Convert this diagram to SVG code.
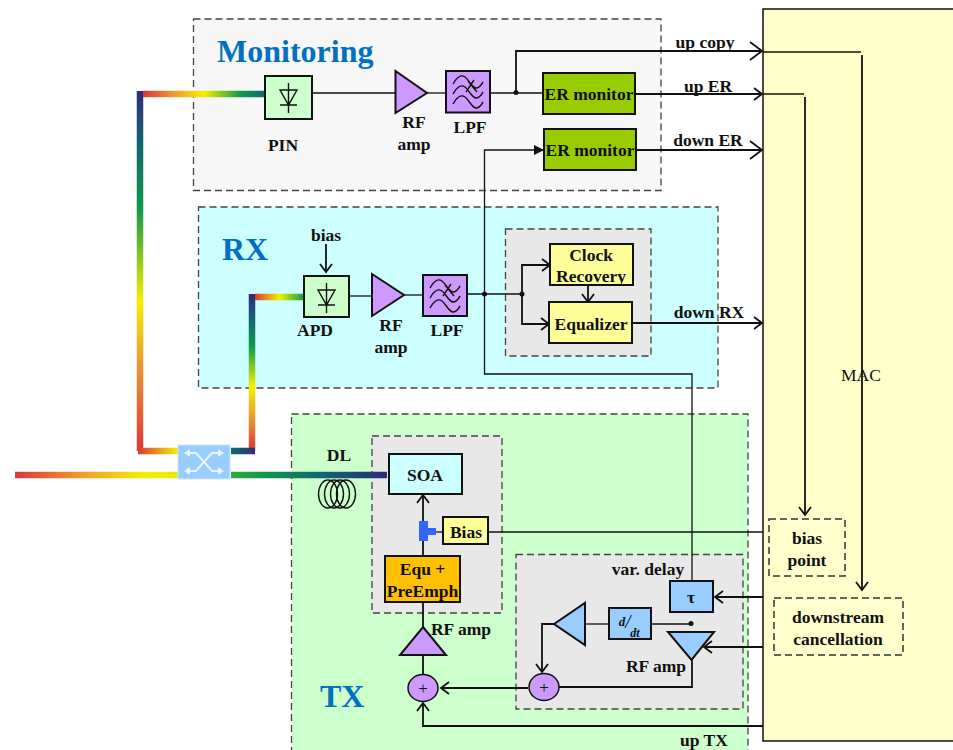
<svg xmlns="http://www.w3.org/2000/svg" width="953" height="750" viewBox="0 0 953 750">
<style>
text{font-family:"Liberation Serif","Times New Roman",serif;font-weight:bold;font-size:17.5px;fill:#111;text-anchor:middle}
text.title{font-size:32px;fill:#0070c0;text-anchor:start}
.reg{font-weight:normal}
.dash{stroke:#444;stroke-width:1.3;stroke-dasharray:7 4}
.box{stroke:#111;stroke-width:2}
.w{fill:none;stroke:#111;stroke-width:1.3}
.a{fill:none;stroke:#111;stroke-width:1.8}
.glyph{fill:none;stroke:#111;stroke-width:1.4}
.fib{fill:none;stroke-width:6.5}
.dot{fill:#111}
.purple{fill:#cc99ff}
.lblue{fill:#99ccff}
.yellow{fill:#ffff99}
.green{fill:#ccffcc}
.er{fill:#99cc00}
</style>
<defs>
<marker id="arr" markerUnits="userSpaceOnUse" markerWidth="20" markerHeight="20" refX="10" refY="10" orient="auto" overflow="visible"><path d="M2,4 L10,10 L2,16" fill="none" stroke="#111" stroke-width="1.800"/></marker>
<marker id="arrB" markerUnits="userSpaceOnUse" markerWidth="30" markerHeight="30" refX="15" refY="15" orient="auto" overflow="visible"><path d="M3,6 L15,15 L3,24" fill="none" stroke="#111" stroke-width="1.800"/></marker>
<marker id="arrF" markerUnits="userSpaceOnUse" markerWidth="20" markerHeight="20" refX="10" refY="10" orient="auto" overflow="visible"><path d="M0,5 L10,10 L0,15 Z" fill="#111"/></marker>
<linearGradient id="gMain" gradientUnits="userSpaceOnUse" x1="15" y1="0" x2="178" y2="0"><stop offset="0" stop-color="#d8383a"/><stop offset=".4" stop-color="#ee9a30"/><stop offset=".8" stop-color="#f5f000"/><stop offset="1" stop-color="#e4e810"/></linearGradient>
<linearGradient id="gMainR" gradientUnits="userSpaceOnUse" x1="231" y1="0" x2="387" y2="0"><stop offset="0" stop-color="#3aa83a"/><stop offset=".2" stop-color="#0f9a4a"/><stop offset=".55" stop-color="#0f6a70"/><stop offset="1" stop-color="#2a2a78"/></linearGradient>
<linearGradient id="gH1" gradientUnits="userSpaceOnUse" x1="143" y1="0" x2="265" y2="0"><stop offset="0" stop-color="#d8383a"/><stop offset=".25" stop-color="#ee9a30"/><stop offset=".5" stop-color="#f5f000"/><stop offset=".8" stop-color="#0f9a4a"/><stop offset="1" stop-color="#0f6a70"/></linearGradient>
<linearGradient id="gV1" gradientUnits="userSpaceOnUse" x1="0" y1="451" x2="0" y2="94"><stop offset="0" stop-color="#d8383a"/><stop offset=".25" stop-color="#ee9a30"/><stop offset=".42" stop-color="#f5f000"/><stop offset=".68" stop-color="#0f9a4a"/><stop offset=".85" stop-color="#0f6a70"/><stop offset="1" stop-color="#2f2f78"/></linearGradient>
<linearGradient id="gV2" gradientUnits="userSpaceOnUse" x1="0" y1="451" x2="0" y2="297"><stop offset="0" stop-color="#d8383a"/><stop offset=".22" stop-color="#ee9a30"/><stop offset=".42" stop-color="#f5f000"/><stop offset=".68" stop-color="#0f9a4a"/><stop offset=".85" stop-color="#0f6a70"/><stop offset="1" stop-color="#2f2f78"/></linearGradient>
<linearGradient id="gH2" gradientUnits="userSpaceOnUse" x1="255" y1="0" x2="304" y2="0"><stop offset="0" stop-color="#d8383a"/><stop offset=".5" stop-color="#f5f000"/><stop offset="1" stop-color="#0f9a4a"/></linearGradient>
<linearGradient id="gS1" gradientUnits="userSpaceOnUse" x1="138" y1="0" x2="178" y2="0"><stop offset="0" stop-color="#d8383a"/><stop offset="1" stop-color="#f5f000"/></linearGradient>
<linearGradient id="gS2" gradientUnits="userSpaceOnUse" x1="231" y1="0" x2="255" y2="0"><stop offset="0" stop-color="#0f6a70"/><stop offset="1" stop-color="#2f2f78"/></linearGradient>
<g id="diode"><path class="glyph" d="M0,-10 V20 M-8.500,-3 H8.500 L0,12 Z M-8.500,12 H8.500"/></g>
<g id="lpf"><path class="glyph" d="M7,13 C11,6 15,3 19,6 S26,17 30,17 S35,14 37,11 M7,23 C11,16 15,13 19,16 S26,27 30,27 S35,24 37,21 M7,33 C11,26 15,23 19,26 S26,37 30,37 S35,34 37,31 M20,21 L28,9 M22,10 L31,21"/></g>
</defs>

<rect id="mac-bg" x="763" y="9" width="200" height="732" fill="#ffffcc" stroke="#111" stroke-width="1.500"/>

<g id="monitoring">
<rect x="193.500" y="19" width="467.500" height="171.500" fill="#f7f7f7" class="dash"/>
<text class="title" x="217" y="62">Monitoring</text>
</g>
<g id="rx">
<rect x="198.500" y="207" width="519.500" height="181" fill="#ccffff" class="dash"/>
<text class="title" x="222" y="260">RX</text>
<rect x="505.500" y="229" width="145.500" height="127" fill="#e8e8e8" class="dash"/>
</g>
<g id="tx">
<rect x="291.500" y="414" width="456.500" height="346" fill="#ccffcc" class="dash"/>
<text class="title" x="320" y="707">TX</text>
<rect x="372" y="436" width="130" height="177" fill="#e8e8e8" class="dash"/>
<rect x="516" y="554.500" width="227" height="154.500" fill="#e8e8e8" class="dash"/>
</g>

<g id="fibers">
<path class="fib" stroke="url(#gV1)" d="M140,451 V91"/>
<path class="fib" stroke="url(#gH1)" d="M143,94 H265"/>
<path class="fib" stroke="url(#gV2)" d="M252,451 V294"/>
<path class="fib" stroke="url(#gH2)" d="M255,297 H304"/>
<path class="fib" stroke="url(#gS1)" d="M138,451 H178"/>
<path class="fib" stroke="url(#gS2)" d="M231,451 H255"/>
<path class="fib" stroke="url(#gMain)" d="M15,475 H178"/>
<path class="fib" stroke="url(#gMainR)" d="M231,475 H387"/>
</g>

<g id="connectors">
<path class="w" d="M312,93 H395"/>
<path class="w" d="M427,93 H446"/>
<path class="w" d="M490,93 H544"/>
<path class="a" marker-end="url(#arrB)" d="M516,93 V51 H762"/>
<path class="a" marker-end="url(#arr)" d="M635,94 H762"/>
<path class="a" marker-end="url(#arrB)" d="M636,150 H762"/>
<path class="w" marker-end="url(#arrF)" d="M692,581 V374 H484.500 V150 H544"/>
<path class="w" d="M763,52 H861"/>
<path class="a" marker-end="url(#arr)" d="M862,55 V590"/>
<path class="w" d="M763,94 H804"/>
<path class="a" marker-end="url(#arr)" d="M805,97 V515"/>
<path class="a" marker-end="url(#arr)" d="M326,244 V272"/>
<path class="w" d="M349,296 H372"/>
<path class="w" d="M404,295 H423"/>
<path class="w" d="M467,294 H522"/>
<path class="a" marker-end="url(#arr)" d="M522,294 V265 H550"/>
<path class="a" marker-end="url(#arr)" d="M522,294 V324 H549"/>
<path class="a" marker-end="url(#arr)" d="M588,285 V302"/>
<path class="a" marker-end="url(#arr)" d="M632,323 H762"/>
<path class="w" d="M488,532 H763"/>
<path class="w" d="M436,532 H443"/>
<path class="a" marker-end="url(#arr)" d="M423,556 V495"/>
<path class="a" d="M423,602 V628 M423,655 V675"/>
<path class="a" marker-end="url(#arr)" d="M528,688 H441"/>
<path class="a" d="M558,687 H692 V660"/>
<path class="w" d="M609,624 H586"/>
<path class="w" d="M651,624 H691"/>
<path class="a" marker-end="url(#arr)" d="M554,624 H542 V672"/>
<path class="a" marker-end="url(#arr)" d="M763,597 H715"/>
<path class="a" marker-end="url(#arr)" d="M763,647 H704"/>
<path class="a" marker-end="url(#arr)" d="M763,726 H423 V703"/>
<circle class="dot" cx="516" cy="92.500" r="2.500"/>
<circle class="dot" cx="484.500" cy="294" r="2.500"/>
<circle class="dot" cx="522" cy="294" r="2.500"/>
<circle class="dot" cx="691" cy="623.500" r="2.500"/>
</g>

<g id="pin">
<rect class="box green" x="265" y="76" width="47" height="43"/>
<use href="#diode" x="288.500" y="93"/>
<text x="283" y="151">PIN</text>
</g>
<g id="mon-amp">
<path class="box purple" d="M395.500,71 L427,93 L395.500,113 Z"/>
<text x="414" y="128">RF</text><text x="414" y="150">amp</text>
</g>
<g id="mon-lpf">
<rect class="box purple" x="446" y="71" width="44" height="41.500"/>
<use href="#lpf" x="446" y="71"/>
<text x="470" y="133">LPF</text>
</g>
<g id="er1">
<rect class="box er" x="543" y="73" width="92" height="41"/>
<text x="589" y="100">ER monitor</text>
</g>
<g id="er2">
<rect class="box er" x="544" y="129" width="92" height="41"/>
<text x="590" y="156">ER monitor</text>
</g>
<g id="labels">
<text x="705" y="48">up copy</text>
<text x="708" y="92">up ER</text>
<text x="708" y="146">down ER</text>
<text x="709" y="318">down RX</text>
<text x="704" y="746">up TX</text>
<text class="reg" x="861" y="381">MAC</text>
<text x="326" y="241">bias</text>
<text x="339" y="461">DL</text>
</g>

<g id="apd">
<rect class="box green" x="304" y="276" width="45" height="41"/>
<use href="#diode" x="326.500" y="293"/>
<text x="315" y="336">APD</text>
</g>
<g id="rx-amp">
<path class="box purple" d="M372,274 L404,295 L372,316 Z"/>
<text x="391" y="331">RF</text><text x="391" y="353">amp</text>
</g>
<g id="rx-lpf">
<rect class="box purple" x="423" y="275" width="44" height="41"/>
<use href="#lpf" x="423" y="275"/>
<text x="447" y="336">LPF</text>
</g>
<g id="clock">
<rect class="box yellow" x="550" y="244" width="83" height="41"/>
<text x="591" y="261">Clock</text><text x="591" y="282">Recovery</text>
</g>
<g id="equalizer">
<rect class="box yellow" x="549" y="302" width="83" height="41"/>
<text x="591" y="330">Equalizer</text>
</g>

<g id="switch">
<rect x="178" y="445" width="52" height="34" fill="#99ccff" stroke="#cce4ff" stroke-width="1"/>
<path d="M186,453 H196 L212,471 H222 M186,471 H196 L212,453 H222" fill="none" stroke="#e8f3ff" stroke-width="2"/>
<path d="M184,453 L190,449 V457 Z M184,471 L190,467 V475 Z M224,453 L218,449 V457 Z M224,471 L218,467 V475 Z" fill="#e8f3ff"/>
</g>
<g id="coil">
<g fill="none" stroke="#111" stroke-width="1.400">
<ellipse cx="328" cy="494" rx="9.500" ry="14"/>
<ellipse cx="334" cy="494" rx="9.500" ry="14"/>
<ellipse cx="340" cy="494" rx="9.500" ry="14"/>
<ellipse cx="346" cy="494" rx="9.500" ry="14"/>
</g>
</g>
<g id="soa">
<rect class="box" fill="#ccffff" x="389" y="454" width="73" height="40"/>
<text x="425" y="481">SOA</text>
</g>
<g id="bias-t">
<path fill="#3366ff" d="M419,521 H428 V528 H436 V535 H428 V541 H419 Z"/>
</g>
<g id="bias">
<rect class="box yellow" x="443" y="517" width="45" height="27"/>
<text x="466" y="538">Bias</text>
</g>
<g id="equ">
<rect class="box" fill="#ffc000" x="385" y="556" width="75" height="46"/>
<text x="422.500" y="575">Equ +</text><text x="422.500" y="597">PreEmph</text>
</g>
<g id="tx-amp">
<path class="box purple" d="M423,627 L446,655 L400,655 Z"/>
<text x="461" y="635">RF amp</text>
</g>
<g id="sum1">
<ellipse class="box purple" cx="423" cy="688" rx="15" ry="13.500" style="stroke-width:1.500"/>
<text class="reg" x="423" y="694" style="font-size:17px">+</text>
</g>
<g id="sum2">
<ellipse class="box purple" cx="544" cy="687" rx="15" ry="13.500" style="stroke-width:1.500"/>
<text class="reg" x="544" y="693" style="font-size:17px">+</text>
</g>
<g id="fb-amp">
<path class="box lblue" d="M554,624 L585,603 L585,645 Z"/>
</g>
<g id="ddt">
<rect class="box lblue" x="609" y="608" width="42" height="31"/>
<text x="622" y="626" style="font-size:13px;font-style:italic">d</text>
<text x="628" y="628" style="font-size:19px;font-style:italic;font-weight:normal">/</text>
<text x="635" y="637" style="font-size:12px;font-style:italic">dt</text>
</g>
<g id="tau">
<rect class="box lblue" x="670" y="581" width="43" height="31"/>
<text x="691" y="603">τ</text>
<text x="648" y="575">var. delay</text>
</g>
<g id="canc-amp">
<path class="box lblue" d="M668,632 L714,632 L691.500,660 Z"/>
<text x="656" y="672">RF amp</text>
</g>
<g id="bias-point">
<rect class="dash" fill="none" x="769" y="519" width="76" height="57" style="stroke:#333;stroke-width:1.500"/>
<text x="807" y="544">bias</text><text x="807" y="566">point</text>
</g>
<g id="downstream">
<rect class="dash" fill="none" x="774" y="598" width="129" height="57" style="stroke:#333;stroke-width:1.500"/>
<text x="838" y="623">downstream</text><text x="838" y="645">cancellation</text>
</g>
</svg>
